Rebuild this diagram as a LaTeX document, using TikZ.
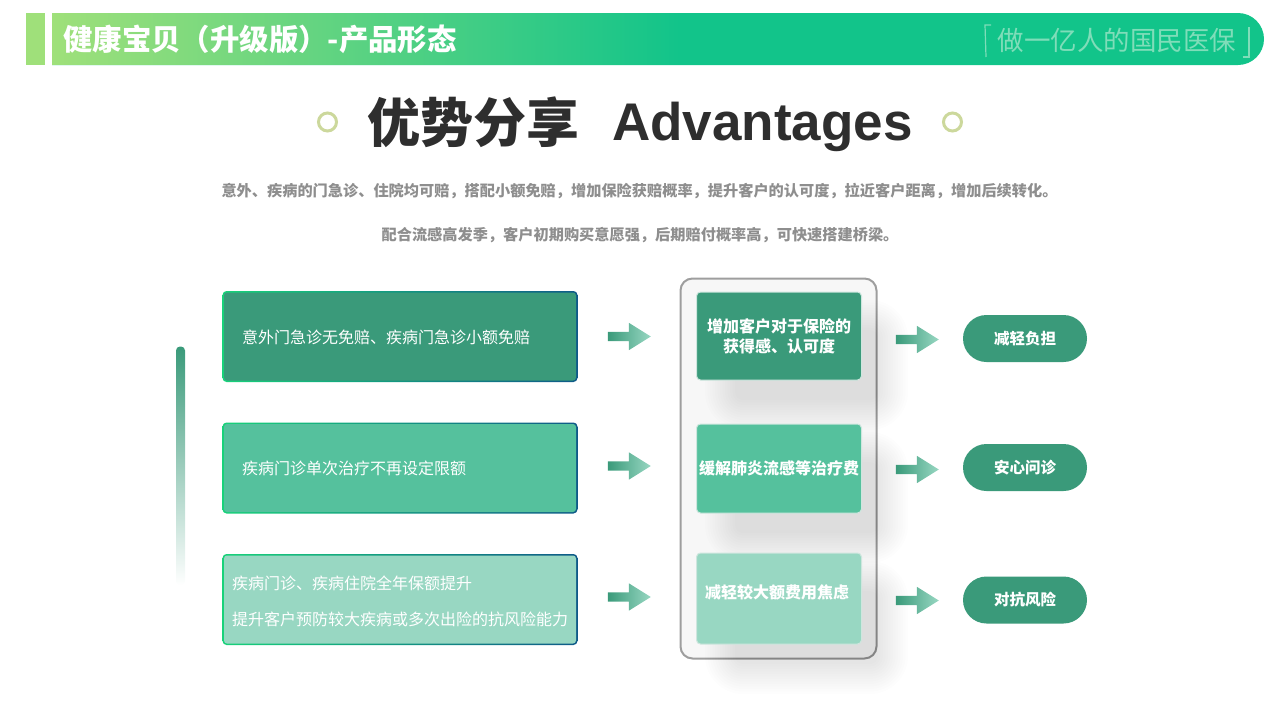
\documentclass[tikz,border=0pt]{standalone}
\usepackage{fontspec}
\usepackage{xcolor}
\usepackage{tikz}
\usetikzlibrary{shapes.misc}
\usetikzlibrary{shapes.arrows}
\setmainfont{Noto Sans CJK SC}
\newfontfamily\latinbold{Liberation Sans}[BoldFont={Liberation Sans Bold}]
\definecolor{stripegreen}{HTML}{9FE07A}
\definecolor{bargreen}{HTML}{12C48A}
\definecolor{slogangreen}{HTML}{7FDDB9}
\definecolor{titlegray}{HTML}{2E2E2E}
\definecolor{notegray}{HTML}{8E8E8E}
\definecolor{ringgreen}{HTML}{CCD89C}
\definecolor{cardone}{HTML}{3A9A7A}
\definecolor{cardtwo}{HTML}{55C19D}
\definecolor{cardthree}{HTML}{98D7C2}
\definecolor{edgegreen}{HTML}{18D27A}
\definecolor{edgeblue}{HTML}{0F5A88}
\newcommand{\softshadow}[4]{
    \foreach \r in {0,2.5,...,30} {
        \fill[black,opacity=0.009,rounded corners=8pt+\r*1pt] (#1-\r,#2-\r) rectangle (#3+\r,#4+\r);
    }
}
\tikzset{
    notetext/.style={text=notegray,font=\bfseries\fontsize{15.2}{18}\selectfont,inner sep=0pt},
    slogantext/.style={text=slogangreen,font=\fontsize{26.5}{30}\selectfont,inner sep=0pt},
    sloganmark/.style={draw=slogangreen,line width=1.2pt},
    ring/.style={circle,draw=ringgreen,line width=3pt,minimum size=18pt,inner sep=0pt},
    leftcard/.style={rounded corners=4pt,left color=edgegreen,right color=edgeblue,
        minimum width=355pt,minimum height=91pt,inner sep=0pt},
    leftfill/.style={rounded corners=3pt,minimum width=352pt,minimum height=88pt,inner sep=0pt},
    cardtext/.style={text=white,font=\fontsize{16}{20}\selectfont,inner sep=0pt,anchor=west},
    midcard/.style={rounded corners=4pt,draw=white!75!cardone,line width=1pt,minimum width=165pt,
        text=white,font=\bfseries\fontsize{16}{20}\selectfont,align=center,inner sep=0pt},
    pill/.style={rounded rectangle,fill=cardone,minimum width=124pt,minimum height=47pt,inner sep=0pt,
        text=white,font=\bfseries\fontsize{15.5}{18}\selectfont},
    flowarrow/.style={single arrow,left color=cardone,right color=cardthree,draw=none,inner sep=0pt,
        text height=9pt,text depth=0pt,minimum height=43pt,single arrow head extend=9pt,single arrow tip angle=64},
}

\begin{document}
\begin{tikzpicture}[x=1pt,y=-1pt]
    \useasboundingbox (0,0) rectangle (1280,720);
    % header band
    \fill[stripegreen] (26,13) rectangle (45,65);
    \node[rounded rectangle,rounded rectangle left arc=none,fill=bargreen,minimum width=1212pt,minimum height=52pt,inner sep=0pt] (headerbar) at (658,39) {};
    \node[left color=stripegreen,right color=bargreen,minimum width=628pt,minimum height=51.4pt,inner sep=0pt] (headerfade) at (366,39) {};
    \node[text=white,font=\bfseries\fontsize{29.4}{32}\selectfont,inner sep=0pt,anchor=west] (headertitle) at (63,39) {健康宝贝（升级版）-产品形态};
    \draw[sloganmark] (991,25) -- (985,25) -- (986,57);
    \node[slogantext] (slogan) at (1117,40) {做一亿人的国民医保};
    \draw[sloganmark] (1249,27) -- (1249,57) -- (1243,57);

    % title
    \node[ring] (ringleft) at (327.5,122) {};
    \node[ring] (ringright) at (952.5,122) {};
    \node[text=titlegray,font=\bfseries\fontsize{53}{60}\selectfont,inner sep=0pt,anchor=west] (titlecn) at (367.5,122) {优势分享};
    \node[text=titlegray,font=\latinbold\bfseries\fontsize{53}{60}\selectfont,inner sep=0pt,anchor=west] (titleen) at (612,126.5) {Advantages};
    \node[notetext] (noteone) at (639.5,191) {意外、疾病的门急诊、住院均可赔，搭配小额免赔，增加保险获赔概率，提升客户的认可度，拉近客户距离，增加后续转化。};
    \node[notetext] (notetwo) at (640,235) {配合流感高发季，客户初期购买意愿强，后期赔付概率高，可快速搭建桥梁。};

    % fading bar on the left
    \node[rounded corners=4pt,top color=cardone,bottom color=white,minimum width=9pt,minimum height=239pt,inner sep=0pt] (sidebar) at (180.5,466) {};

    % left column
    \node[leftcard] (leftone) at (400,336.5) {};
    \node[leftfill,fill=cardone] (fillone) at (leftone) {};
    \node[cardtext] (textone) at (242,337) {意外门急诊无免赔、疾病门急诊小额免赔};
    \node[leftcard] (lefttwo) at (400,468) {};
    \node[leftfill,fill=cardtwo] (filltwo) at (lefttwo) {};
    \node[cardtext] (texttwo) at (242,468) {疾病门诊单次治疗不再设定限额};
    \node[leftcard] (leftthree) at (400,599.5) {};
    \node[leftfill,fill=cardthree] (fillthree) at (leftthree) {};
    \node[cardtext] (textthree) at (232,583) {疾病门诊、疾病住院全年保额提升};
    \node[cardtext] (textfour) at (232,619) {提升客户预防较大疾病或多次出险的抗风险能力};

    % arrows into the panel
    \node[flowarrow] (arrowone) at (625.5,336.5) {};
    \node[flowarrow] (arrowtwo) at (625.5,466) {};
    \node[flowarrow] (arrowthree) at (625.5,597) {};

    % middle panel
    \node[rounded corners=12pt,draw=black!38,line width=2pt,fill=black!3,minimum width=196pt,minimum height=380pt,inner sep=0pt] (panel) at (778.5,468.5) {};
    \softshadow{735}{330}{878}{400}
    \softshadow{735}{462}{878}{533}
    \softshadow{735}{591}{878}{664}
    \node[midcard,fill=cardone,minimum height=88pt] (midone) at (779,336) {增加客户对于保险的\\获得感、认可度};
    \node[midcard,fill=cardtwo,minimum height=89pt] (midtwo) at (779,468.5) {缓解肺炎流感等治疗费};
    \node[midcard,fill=cardthree,minimum height=91pt] (midthree) at (779,598.5) {};
    \node[text=white,font=\bfseries\fontsize{16}{20}\selectfont,inner sep=0pt] (midthreetext) at (777,592) {减轻较大额费用焦虑};

    % arrows out of the panel
    \node[flowarrow] (arrowfour) at (913.5,339.5) {};
    \node[flowarrow] (arrowfive) at (913.5,469.5) {};
    \node[flowarrow] (arrowsix) at (913.5,600.5) {};

    % right column
    \node[pill] (pillone) at (1025,338.5) {减轻负担};
    \node[pill] (pilltwo) at (1025,467.5) {安心问诊};
    \node[pill] (pillthree) at (1025,600) {对抗风险};
\end{tikzpicture}
\end{document}
